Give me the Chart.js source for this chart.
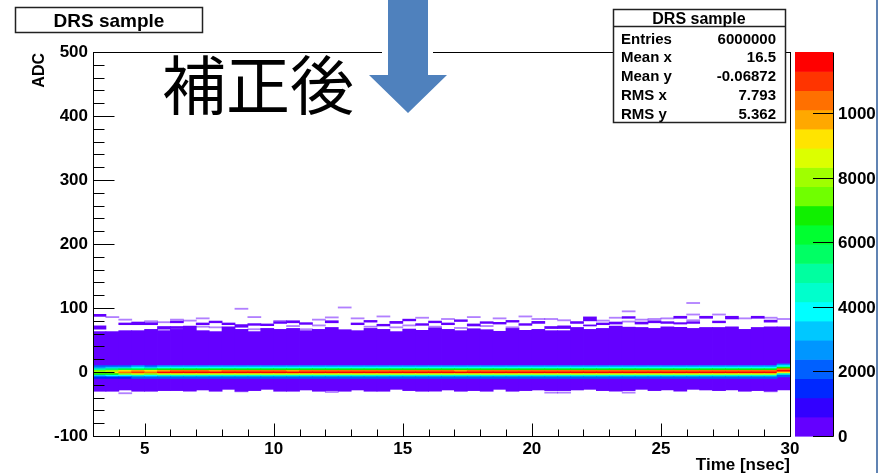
<!DOCTYPE html>
<html>
<head>
<meta charset="utf-8">
<script src="https://cdn.jsdelivr.net/npm/chart.js@4.4.1/dist/chart.umd.min.js"></script>
<style>
  html, body { margin: 0; padding: 0; background: #fff; }
  #drs { display: block; }
</style>
</head>
<body>
<canvas id="drs" width="879" height="473" style="width:879px;height:473px"></canvas>
<script>
// ------------------ data ------------------
// time bins (bin centres, 0.5 ns wide)
const timeBins = [3.25, 3.75, 4.25, 4.75, 5.25, 5.75, 6.25, 6.75, 7.25, 7.75, 8.25, 8.75, 9.25, 9.75,
  10.25, 10.75, 11.25, 11.75, 12.25, 12.75, 13.25, 13.75, 14.25, 14.75, 15.25, 15.75, 16.25, 16.75,
  17.25, 17.75, 18.25, 18.75, 19.25, 19.75, 20.25, 20.75, 21.25, 21.75, 22.25, 22.75, 23.25, 23.75,
  24.25, 24.75, 25.25, 25.75, 26.25, 26.75, 27.25, 27.75, 28.25, 28.75, 29.25, 29.75];

// solid low-count band (ADC) per time bin
const bandTop = [63, 63, 64.5, 64.5, 66.5, 64.5, 66.5, 71.5, 64.5, 63, 70.5, 66.5, 63, 68, 66.5, 68, 64.5, 66.5, 69.5,
  66, 64.5, 68, 66.5, 63, 67, 65, 69, 66.5, 64.5, 67.5, 66, 63.5, 68, 65, 66.5,
  64.5, 64.5, 69.5, 66.5, 68, 71.5, 69.5, 69.5, 68, 70.5, 69.5, 68, 69.5, 69.5, 70.5, 66.5, 69.5, 70.5, 70.5];
const bandBottom = [-30, -30, -28, -30, -30, -29, -29, -30, -28, -30, -27, -30, -29, -27, -30, -30, -28, -30,
  -29, -30, -28, -30, -30, -27, -29, -30, -30, -28, -30, -29, -30, -27, -30, -29, -28, -29,
  -29, -28, -27, -29, -30, -29, -27, -29, -28, -30, -27, -28, -29, -28, -30, -29, -30, -28];

// peak rows around 0 ADC: lower edge of each 2.5 ADC row and typical counts
const coreLow = [-10, -7.5, -5, -2.5, 0, 2.5, 5, 7.5];
const coreCounts = [2000, 4500, 8800, 11700, 10300, 6800, 3900, 2600];
const peakFactor = [0.75, 0.8, 0.88, 0.95, 0.9, 0.97, 1, 1, 1, 0.98, 1, 1, 1, 1, 1, 0.97, 1, 1,
  1, 1, 1, 1, 1, 1, 1, 1, 1, 1, 0.98, 1, 1, 1, 1, 1, 1, 1,
  1, 1, 1, 1, 1, 1, 1, 1, 1, 1, 1, 1, 1, 1, 1, 1, 1, 1.02];
const coreShift = [0, 0, 0, 0, 0, 0, 0, 0, 0, 0, 0, 0, 0, 0, 0, 0, 0, 0,
  0, 0, 0, 0, 0, 0, 0, 0, 0, 0, 0, 0, 0, 0, 0, 0, 0, 0,
  0, 0, 0, 0, 0, 0, 0, 0, 0, 0, 0, 0, 0, 0, 0, 0, 0, 2.5];

// sparse cells outside the band: [time, adc low, adc high]
const solidCells = [[3.25, 87, 90], [3.25, 67, 72], [4.25, 74, 76.5], [4.75, 74, 78], [5.25, 74, 77],
  [5.75, 67, 71], [6.25, 77, 79.5], [6.25, 68, 71], [7.25, 74, 76.5], [7.75, 77, 79.5], [8.25, 74, 76.5],
  [8.75, 70, 74], [9.25, 73, 75.5], [9.75, 72.5, 75], [10.25, 76, 78.5], [10.75, 77, 80], [11.25, 74.5, 77],
  [12.25, 77, 80], [13.25, 74, 76.5], [13.75, 78, 80.5], [14.25, 72, 74.5], [14.75, 76, 79], [15.25, 80, 82.5],
  [15.75, 73, 75.5], [16.25, 77, 79.5], [16.75, 74, 76.5], [17.25, 79, 81.5], [17.75, 72, 75], [18.25, 76, 78.5],
  [18.75, 75, 77.5], [19.25, 78, 80.5], [19.75, 73, 75.5], [20.25, 76, 79], [20.75, 68, 71], [21.25, 68, 72],
  [21.75, 76, 78.5], [22.25, 80, 86], [22.25, 72, 73.5], [22.75, 74, 76.5], [23.25, 75, 78], [23.75, 84, 86.5],
  [23.75, 67, 70], [24.25, 75, 78], [24.75, 77, 80], [25.25, 76, 78.5], [25.75, 84, 87], [25.75, 75, 77],
  [26.25, 76, 78.5], [26.75, 84, 87], [27.25, 77, 79.5], [27.75, 83, 87], [28.75, 84, 87], [29.25, 78, 81]];
// single faint cells: [time, adc]
const faintCells = [[3.75, 85], [4.25, 81], [5.25, 78.5], [5.75, 77], [6.25, 81], [6.75, 79.5], [7.25, 83],
  [7.25, 70], [7.75, 69], [8.75, 98], [9.25, 85], [9.25, 66], [10.25, 79], [10.75, 71], [11.25, 66],
  [11.75, 81], [11.75, 72], [12.25, 84.5], [12.75, 100], [13.25, 83], [13.75, 70], [14.25, 86], [14.75, 69],
  [15.25, 72], [15.75, 84], [16.25, 70], [16.75, 82], [17.25, 68], [17.75, 85], [18.25, 71], [18.75, 83],
  [19.25, 69], [19.75, 86], [20.25, 82], [20.75, 82], [21.25, 80], [21.75, 77], [22.75, 79.5], [23.25, 84],
  [23.75, 94], [23.75, 78], [24.25, 81], [24.75, 82], [25.25, 83], [26.25, 107], [26.25, 89], [26.25, 80],
  [27.25, 89], [27.25, 66], [27.75, 68], [28.25, 83], [29.25, 84], [29.75, 82],
  [4.25, -34], [8.75, -31], [12.25, -32], [20.75, -33], [21.25, -33], [23.75, -33], [29.25, -31]];

// colour scale (counts) and its 20 colours, bottom to top
const zMax = 11900;
const zTicks = [0, 2000, 4000, 6000, 8000, 10000];
const palette = ['#6400ff', '#3200ff', '#0028ff', '#0060ff', '#0096ff', '#00c8ff', '#00ffff', '#00ffcc',
  '#00ffa0', '#00ff64', '#00ff30', '#10f000', '#70ff00', '#a0ff00', '#dcff00', '#ffe400', '#ffa800',
  '#ff7000', '#ff3400', '#ff0000'];

const statsRows = [['Entries', '6000000'], ['Mean x', '16.5'], ['Mean y', '-0.06872'], ['RMS x', '7.793'], ['RMS y', '5.362']];

// ------------------ build datasets ------------------
const FONT = '"Liberation Sans", Arial, Helvetica, sans-serif';
const colourFor = c => palette[Math.max(0, Math.min(palette.length - 1, Math.floor(c / (zMax / palette.length))))];
const barBase = { type: 'bar', borderWidth: 0, barPercentage: 1, categoryPercentage: 1, grouped: false, inflateAmount: 0.4 };

const datasets = [];
coreLow.forEach((lo, r) => {
  datasets.push(Object.assign({}, barBase, {
    order: 0,
    data: timeBins.map((t, i) => ({ x: t, y: [lo + coreShift[i], lo + 2.5 + coreShift[i]] })),
    backgroundColor: timeBins.map((t, i) => colourFor(coreCounts[r] * peakFactor[i]))
  }));
});
datasets.push(Object.assign({}, barBase, {
  order: 1,
  data: solidCells.map(c => ({ x: c[0], y: [c[1], c[2]] })),
  backgroundColor: palette[0]
}));
datasets.push(Object.assign({}, barBase, {
  order: 1,
  data: faintCells.map(c => ({ x: c[0], y: [c[1], c[1] + 1.6] })),
  backgroundColor: 'rgba(100, 0, 255, 0.5)'
}));
datasets.push(Object.assign({}, barBase, {
  order: 2,
  data: timeBins.map((t, i) => ({ x: t, y: [bandBottom[i], bandTop[i]] })),
  backgroundColor: palette[0]
}));

// ------------------ frame, ticks, colour bar, boxes ------------------
const overlay = {
  id: 'overlay',
  afterDraw(chart) {
    const ctx = chart.ctx, a = chart.chartArea;
    const xs = chart.scales.x, ys = chart.scales.y, zs = chart.scales.z;
    const L = Math.round(a.left) + 0.5, R = Math.round(a.right) + 0.5;
    const T = Math.round(a.top) + 0.5, B = Math.round(a.bottom) + 0.5;
    ctx.save();
    ctx.strokeStyle = '#000';
    ctx.lineWidth = 1;
    ctx.strokeRect(L, T, R - L, B - T);

    ctx.beginPath();
    ys.ticks.forEach(t => {
      const p = Math.round(ys.getPixelForValue(t.value)) + 0.5;
      const len = t.value % 100 === 0 ? 21 : 11;
      ctx.moveTo(L, p); ctx.lineTo(L + len, p);
    });
    xs.ticks.forEach(t => {
      const p = Math.round(xs.getPixelForValue(t.value)) + 0.5;
      const len = t.value % 5 === 0 ? 13 : 7;
      ctx.moveTo(p, B); ctx.lineTo(p, B - len);
    });
    ctx.stroke();

    // colour bar with its scale
    const step = zMax / palette.length;
    palette.forEach((c, k) => {
      const y0 = zs.getPixelForValue(k * step), y1 = zs.getPixelForValue((k + 1) * step);
      ctx.fillStyle = c;
      ctx.fillRect(795, y1, 38, y0 - y1 + 0.6);
    });
    ctx.beginPath();
    ctx.moveTo(833.5, T); ctx.lineTo(833.5, B);
    zTicks.forEach(v => {
      const p = Math.round(zs.getPixelForValue(v)) + 0.5;
      ctx.moveTo(813, p); ctx.lineTo(833.5, p);
    });
    ctx.stroke();
    ctx.fillStyle = '#000';
    ctx.font = 'bold 17px ' + FONT;
    ctx.textAlign = 'left';
    ctx.textBaseline = 'middle';
    zTicks.forEach(v => {
      ctx.fillText(String(v), 838, zs.getPixelForValue(v) + 1);
    });

    // axis titles
    ctx.textAlign = 'right';
    ctx.textBaseline = 'alphabetic';
    ctx.fillText('Time [nsec]', 790, 470);
    ctx.save();
    ctx.translate(44, 53);
    ctx.rotate(-Math.PI / 2);
    ctx.font = 'bold 16px ' + FONT;
    ctx.fillText('ADC', 0, 0);
    ctx.restore();

    // title box
    ctx.fillStyle = '#fff';
    ctx.fillRect(15, 7, 188, 26);
    ctx.lineWidth = 1.5;
    ctx.strokeStyle = '#222';
    ctx.strokeRect(15.5, 7.5, 187, 25);
    ctx.fillStyle = '#000';
    ctx.font = 'bold 19px ' + FONT;
    ctx.textAlign = 'center';
    ctx.fillText('DRS sample', 109, 26.5);

    // stats box
    ctx.fillStyle = '#fff';
    ctx.fillRect(613, 9, 173, 114);
    ctx.strokeRect(613.5, 9.5, 172, 113);
    ctx.beginPath();
    ctx.moveTo(613.5, 26.5); ctx.lineTo(785.5, 26.5);
    ctx.stroke();
    ctx.fillStyle = '#000';
    ctx.font = 'bold 16px ' + FONT;
    ctx.fillText('DRS sample', 699, 23.5);
    ctx.font = 'bold 15px ' + FONT;
    statsRows.forEach((row, i) => {
      const yb = 43.5 + i * 18.75;
      ctx.textAlign = 'left';
      ctx.fillText(row[0], 621, yb);
      ctx.textAlign = 'right';
      ctx.fillText(row[1], 776, yb);
    });

    // big label and arrow
    ctx.textAlign = 'left';
    ctx.font = '64px "Noto Sans CJK JP", "Noto Sans CJK SC", sans-serif';
    ctx.fillText('補正後', 162, 109);

    ctx.fillStyle = '#fff';
    ctx.fillRect(382, 49, 51, 7);
    ctx.fillStyle = '#4f81bd';
    ctx.beginPath();
    ctx.moveTo(388, 0); ctx.lineTo(428, 0); ctx.lineTo(428, 75); ctx.lineTo(447, 75);
    ctx.lineTo(408, 113); ctx.lineTo(369, 75); ctx.lineTo(388, 75);
    ctx.closePath();
    ctx.fill();

    // slide edge on the right
    ctx.fillStyle = '#fff';
    ctx.fillRect(876, 0, 3, 473);
    ctx.strokeStyle = '#2b5a9a';
    ctx.lineWidth = 1.5;
    ctx.beginPath();
    ctx.moveTo(877, 0); ctx.lineTo(877, 473);
    ctx.stroke();
    ctx.restore();
  }
};

// ------------------ chart ------------------
Chart.defaults.font.family = FONT;
Chart.defaults.color = '#000';

new Chart(document.getElementById('drs').getContext('2d'), {
  type: 'bar',
  data: { datasets: datasets },
  options: {
    responsive: false,
    animation: false,
    devicePixelRatio: 1,
    layout: { padding: { top: 52, left: 0, right: 0, bottom: 0 } },
    plugins: { legend: { display: false }, tooltip: { enabled: false }, title: { display: false } },
    scales: {
      x: {
        type: 'linear', min: 3, max: 30, offset: false,
        grid: { display: false, drawTicks: false }, border: { display: false },
        ticks: { stepSize: 1, autoSkip: false, maxRotation: 0, padding: 3,
          font: { size: 17, weight: 'bold' }, callback: v => (v % 5 === 0 ? String(v) : '') },
        afterFit: s => { s.height = 37; }
      },
      y: {
        type: 'linear', min: -100, max: 500,
        grid: { display: false, drawTicks: false }, border: { display: false },
        ticks: { stepSize: 20, autoSkip: false, padding: 5,
          font: { size: 17, weight: 'bold' }, callback: v => (v % 100 === 0 ? String(v) : '') },
        afterFit: s => { s.width = 93; }
      },
      z: {
        axis: 'y', type: 'linear', position: 'right', min: 0, max: zMax,
        grid: { display: false, drawTicks: false }, border: { display: false },
        ticks: { display: false, stepSize: 2000 },
        afterFit: s => { s.width = 89; }
      }
    }
  },
  plugins: [overlay]
});
</script>
</body>
</html>
